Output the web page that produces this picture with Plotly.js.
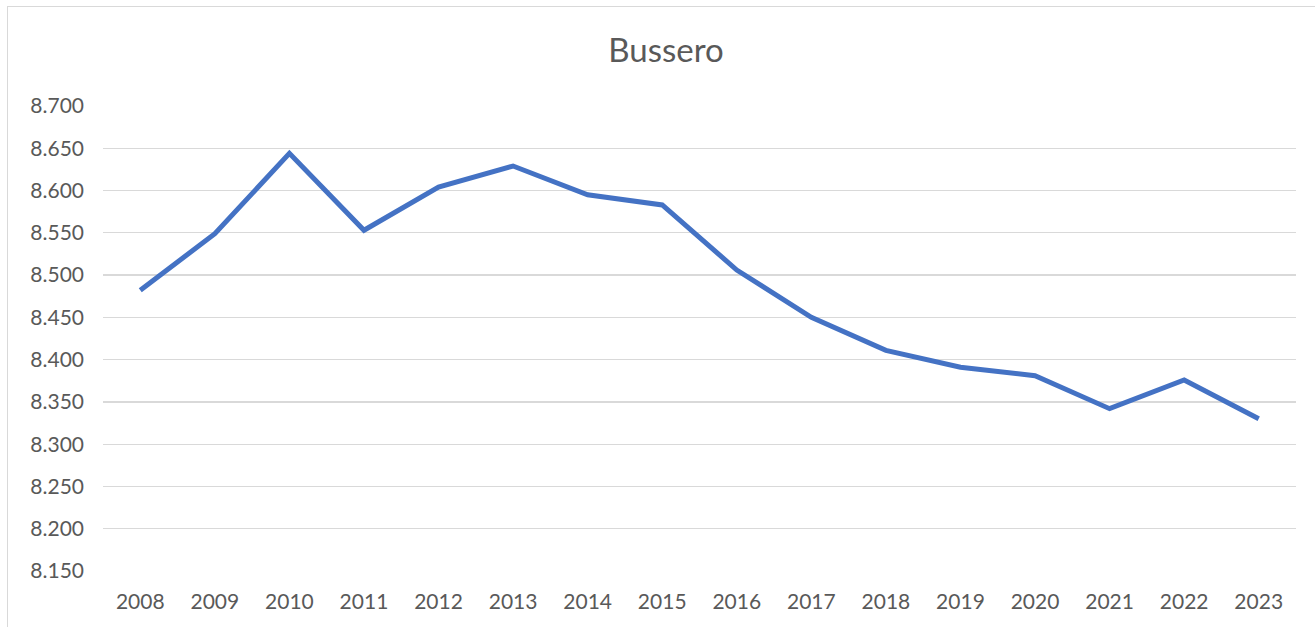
<!DOCTYPE html>
<html>
<head>
<meta charset="utf-8">
<script src="https://cdn.plot.ly/plotly-3.0.1.min.js"></script>
<style>
  html, body { margin: 0; padding: 0; background: #ffffff; }
  #wrap { position: relative; width: 1315px; height: 627px; overflow: hidden; }
  #chart { width: 1315px; height: 627px; }
  #frame { position: absolute; left: 7px; top: 6px; width: 1320px; height: 640px;
           border: 1.5px solid #d9d9d9; box-sizing: border-box; pointer-events: none; }
</style>
</head>
<body>
<div id="wrap">
  <div id="chart"></div>
  <div id="frame"></div>
</div>
<script>
const chartTitle = "Bussero";
const years = ["2008","2009","2010","2011","2012","2013","2014","2015","2016","2017","2018","2019","2020","2021","2022","2023"];
const population = [8482, 8549, 8644, 8553, 8604, 8629, 8595, 8583, 8506, 8450, 8411, 8391, 8381, 8342, 8376, 8330];
const yTicks = [8150, 8200, 8250, 8300, 8350, 8400, 8450, 8500, 8550, 8600, 8650, 8700];

const trace = {
  type: "scatter",
  mode: "lines",
  x: years,
  y: population,
  line: { color: "#4472C4", width: 5 },
  hoverinfo: "x+y"
};

const layout = {
  width: 1315,
  height: 627,
  paper_bgcolor: "#ffffff",
  plot_bgcolor: "#ffffff",
  separators: ",.",
  margin: { l: 103, r: 19, t: 106, b: 56, pad: 0 },
  showlegend: false,
  font: { family: "Lato, 'Open Sans', sans-serif", color: "#595959", size: 21 },
  title: {
    text: chartTitle,
    font: { family: "Lato, 'Open Sans', sans-serif", size: 33, color: "#595959" },
    xref: "container", yref: "container",
    x: 666 / 1315, xanchor: "center",
    y: 1 - 50 / 627, yanchor: "middle"
  },
  xaxis: {
    type: "category",
    range: [-0.5, 15.5],
    showgrid: false,
    zeroline: false,
    showline: false,
    ticks: "",
    ticklabelstandoff: 16,
    tickfont: { size: 21, color: "#595959" },
    fixedrange: true
  },
  yaxis: {
    range: [8150, 8700],
    tickvals: yTicks,
    tickformat: ",d",
    showgrid: true,
    gridcolor: "#d9d9d9",
    gridwidth: 1.3,
    zeroline: false,
    showline: false,
    ticks: "",
    ticklabelstandoff: 18,
    tickfont: { size: 21, color: "#595959" },
    fixedrange: true
  }
};

Plotly.newPlot("chart", [trace], layout, { displayModeBar: false, staticPlot: true });
</script>
</body>
</html>
